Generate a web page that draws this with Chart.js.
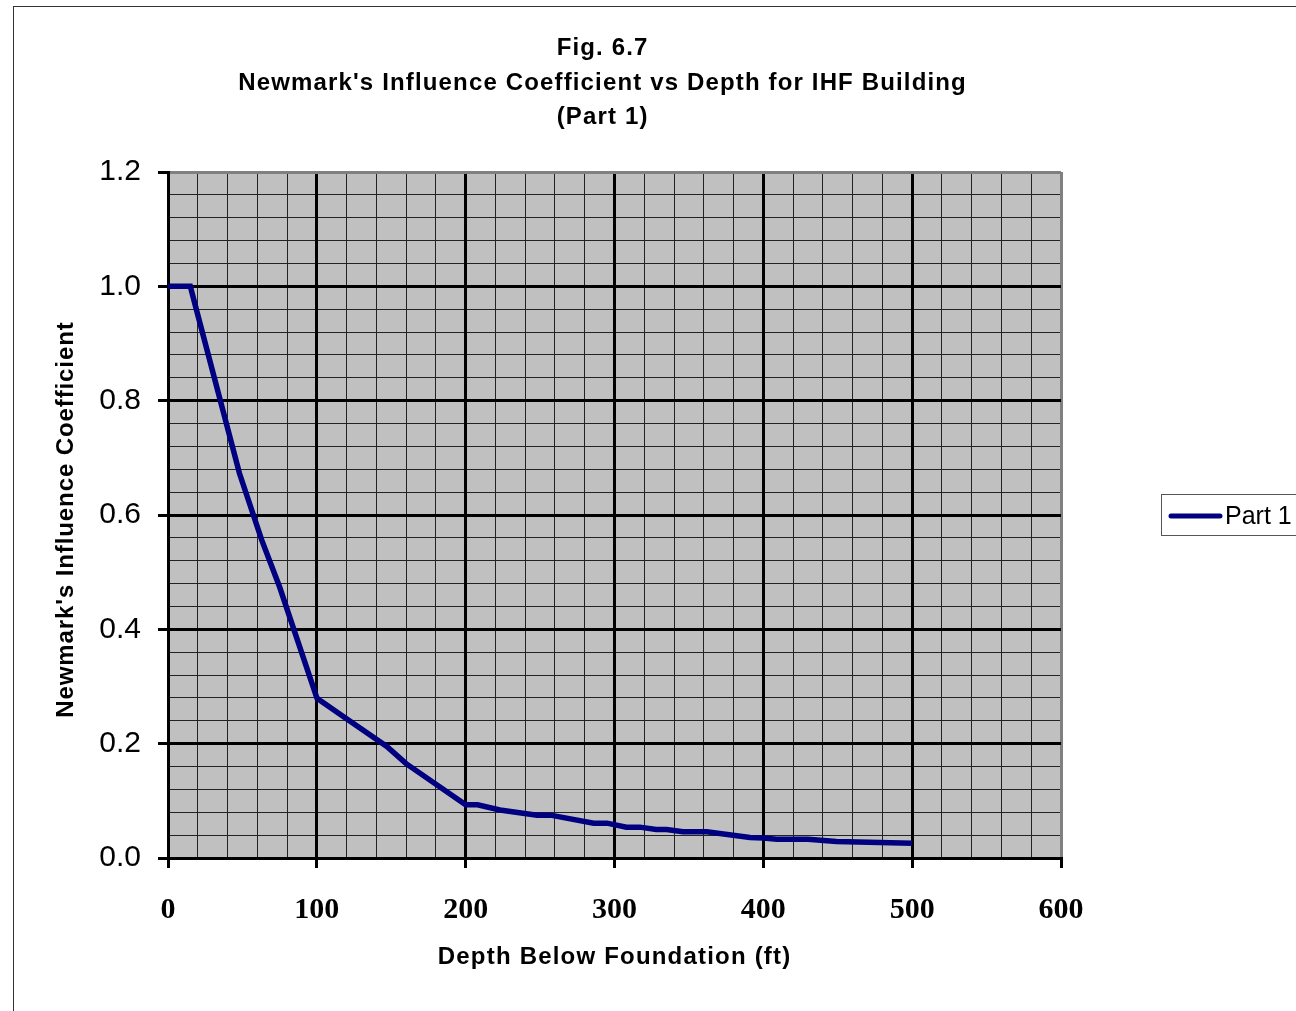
<!DOCTYPE html>
<html>
<head>
<meta charset="utf-8">
<script src="https://cdn.jsdelivr.net/npm/chart.js@4/dist/chart.umd.min.js"></script>
<style>
    html, body { margin: 0; padding: 0; background: #fff; }
    #wrap { width: 1296px; height: 1011px; }
</style>
</head>
<body>
<div id="wrap"><canvas id="chart" width="1296" height="1011"></canvas></div>
<script>
// depth below foundation (ft) and Newmark influence coefficient, Part 1
var depths = [0, 15, 18, 48, 63, 75, 100, 103, 118, 147, 160, 200, 208, 223, 248, 257, 286, 295, 308, 317, 328, 335, 346, 362, 391, 400, 409, 430, 449, 500];
var coeffs = [1.0, 1.0, 0.97, 0.673, 0.556, 0.474, 0.28, 0.274, 0.247, 0.195, 0.165, 0.093, 0.093, 0.084, 0.075, 0.075, 0.061, 0.061, 0.054, 0.054, 0.050, 0.050, 0.046, 0.046, 0.036, 0.035, 0.033, 0.033, 0.029, 0.026];
var seriesName = "Part 1";

var xTicks = [0, 100, 200, 300, 400, 500, 600];
var yTicks = [0, 0.2, 0.4, 0.6, 0.8, 1.0, 1.2];

var titleLines = ["Fig. 6.7", "Newmark's Influence Coefficient vs Depth for IHF Building", "(Part 1)"];
var xTitle = "Depth Below Foundation (ft)";
var yTitle = "Newmark's Influence Coefficient";

var points = [];
for (var i = 0; i < depths.length; i++) {
    points.push({x: depths[i], y: coeffs[i]});
}

function edgeColor(v, max) {
    return Math.abs(v - max) < 1e-6 ? "#808080" : "#000";
}

// centred text with a little extra tracking
function spacedText(ctx, text, x, y, spacing) {
    ctx.letterSpacing = spacing + "px";
    ctx.fillText(text, x + spacing / 2, y);
    ctx.letterSpacing = "0px";
}

var sheetPlugin = {
    id: "sheet",
    beforeDraw: function(chart) {
        var ctx = chart.ctx;
        var a = chart.chartArea;
        ctx.save();
        ctx.fillStyle = "#fff";
        ctx.fillRect(0, 0, chart.width, chart.height);
        ctx.fillStyle = "#c0c0c0";
        ctx.fillRect(a.left, a.top, a.right - a.left, a.bottom - a.top);
        ctx.restore();
    },
    afterDraw: function(chart) {
        var ctx = chart.ctx;
        ctx.save();
        // outer chart frame
        ctx.strokeStyle = "#333";
        ctx.lineWidth = 1;
        ctx.strokeRect(13.5, 6.5, 1400, 1100);

        ctx.fillStyle = "#000";
        ctx.textAlign = "center";
        ctx.textBaseline = "middle";
        ctx.font = "bold 24px 'Liberation Sans', Arial, sans-serif";
        var ty = [48, 83, 117];
        for (var i = 0; i < titleLines.length; i++) {
            spacedText(ctx, titleLines[i], 602, ty[i], 1.15);
        }

        spacedText(ctx, xTitle, 614, 957, 1.2);

        ctx.save();
        ctx.translate(66, 520);
        ctx.rotate(-Math.PI / 2);
        spacedText(ctx, yTitle, 0, 0, 0.9);
        ctx.restore();

        // legend
        ctx.strokeStyle = "#555";
        ctx.lineWidth = 1;
        ctx.strokeRect(1161.5, 494.5, 200, 41);
        ctx.strokeStyle = "#000080";
        ctx.lineWidth = 5;
        ctx.lineCap = "round";
        ctx.beginPath();
        ctx.moveTo(1171, 516);
        ctx.lineTo(1220, 516);
        ctx.stroke();
        ctx.textAlign = "left";
        ctx.font = "25px 'Liberation Sans', Arial, sans-serif";
        ctx.fillText(seriesName, 1225, 517);
        ctx.restore();
    }
};

new Chart(document.getElementById("chart"), {
    type: "scatter",
    data: {
        datasets: [{
            label: seriesName,
            data: points,
            showLine: true,
            borderColor: "#000080",
            borderWidth: 5.5,
            pointRadius: 0,
            tension: 0,
            xAxisID: "x",
            yAxisID: "y"
        }]
    },
    options: {
        responsive: false,
        animation: false,
        events: [],
        layout: {padding: {top: 172, right: 235, left: 0, bottom: 0}},
        plugins: {
            legend: {display: false},
            title: {display: false},
            tooltip: {enabled: false}
        },
        scales: {
            xMinor: {
                type: "linear", position: "bottom", min: 0, max: 600, z: -1,
                ticks: {display: false, stepSize: 20, autoSkip: false},
                grid: {color: "#222", lineWidth: 1, drawTicks: false},
                border: {display: false},
                afterFit: function(s) { s.height = 0; }
            },
            yMinor: {
                type: "linear", position: "left", min: 0, max: 1.2, z: -1,
                ticks: {display: false, stepSize: 0.04, autoSkip: false},
                grid: {color: "#222", lineWidth: 1, drawTicks: false},
                border: {display: false},
                afterFit: function(s) { s.width = 0; }
            },
            x: {
                type: "linear", position: "bottom", min: 0, max: 600,
                afterBuildTicks: function(s) { s.ticks = xTicks.map(function(v) { return {value: v}; }); },
                ticks: {
                    autoSkip: false, padding: 24, color: "#000",
                    font: {family: "'Liberation Serif', 'Times New Roman', serif", size: 30, weight: "bold"}
                },
                grid: {
                    lineWidth: 3, tickLength: 10, tickColor: "#000", tickWidth: 3,
                    color: function(c) { return c.tick ? edgeColor(c.tick.value, 600) : "#000"; }
                },
                border: {display: true, color: "#000", width: 3},
                afterFit: function(s) { s.height = 153; }
            },
            y: {
                type: "linear", position: "left", min: 0, max: 1.2,
                afterBuildTicks: function(s) { s.ticks = yTicks.map(function(v) { return {value: v}; }); },
                ticks: {
                    autoSkip: false, padding: 17, color: "#000",
                    font: {family: "'Liberation Sans', Arial, sans-serif", size: 30},
                    callback: function(v) { return Number(v).toFixed(1); }
                },
                grid: {
                    lineWidth: 3, tickLength: 10, tickColor: "#000", tickWidth: 3,
                    color: function(c) { return c.tick ? edgeColor(c.tick.value, 1.2) : "#000"; }
                },
                border: {display: true, color: "#000", width: 3},
                afterFit: function(s) { s.width = 168; }
            }
        }
    },
    plugins: [sheetPlugin]
});
</script>
</body>
</html>
